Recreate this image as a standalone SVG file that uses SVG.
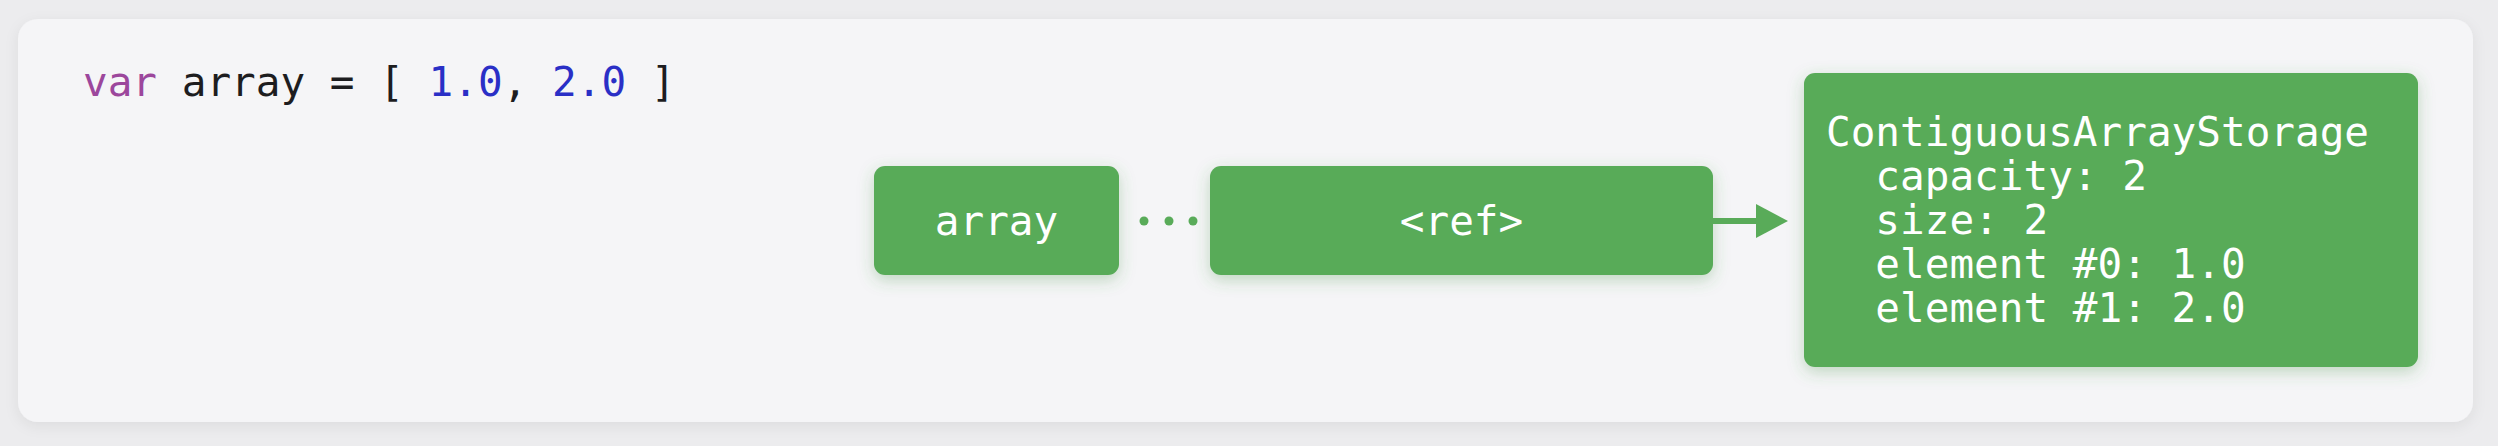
<svg xmlns="http://www.w3.org/2000/svg" width="2498" height="446" viewBox="0 0 2498 446">
  <defs>
    <style>
      .mono { font-family: "DejaVu Sans Mono", "Liberation Mono", monospace; font-size: 41px; }
      .box { fill: #59ab59; }
      .lbl { fill: #ffffff; text-anchor: middle; }
      .wt { fill: #ffffff; }
    </style>
    <filter id="cardShadow" x="-5%" y="-20%" width="110%" height="150%">
      <feGaussianBlur in="SourceAlpha" stdDeviation="7"/>
      <feOffset dy="4" result="b"/>
      <feFlood flood-color="#000000" flood-opacity="0.07"/>
      <feComposite in2="b" operator="in"/>
      <feMerge><feMergeNode/><feMergeNode in="SourceGraphic"/></feMerge>
    </filter>
    <filter id="greenShadow" x="-20%" y="-30%" width="140%" height="170%">
      <feGaussianBlur in="SourceAlpha" stdDeviation="8"/>
      <feOffset dy="5" result="b"/>
      <feFlood flood-color="#3f8f3f" flood-opacity="0.3"/>
      <feComposite in2="b" operator="in"/>
      <feMerge><feMergeNode/><feMergeNode in="SourceGraphic"/></feMerge>
    </filter>
  </defs>

  <rect x="0" y="0" width="2498" height="446" fill="#ececee"/>
  <rect x="18" y="19" width="2455" height="403" rx="20" ry="20" fill="#f5f5f7" filter="url(#cardShadow)"/>

  <g id="code">
    <text class="mono" x="83" y="96" fill="#1d1d1f" xml:space="preserve"><tspan fill="#9c479c">var</tspan> array = [ <tspan fill="#2a2fc6">1.0</tspan>, <tspan fill="#2a2fc6">2.0</tspan> ]</text>
  </g>

  <g id="node-array">
    <rect class="box" x="874" y="166" width="245" height="109" rx="11" ry="11" filter="url(#greenShadow)"/>
    <text class="mono lbl" x="996.5" y="235">array</text>
  </g>

  <g id="node-ref">
    <rect class="box" x="1210" y="166" width="503" height="109" rx="11" ry="11" filter="url(#greenShadow)"/>
    <text class="mono lbl" x="1461.5" y="235">&lt;ref&gt;</text>
  </g>

  <g id="node-storage">
    <rect class="box" x="1804" y="73" width="614" height="294" rx="11" ry="11" filter="url(#greenShadow)"/>
    <text class="mono wt" x="1826" y="146" xml:space="preserve">ContiguousArrayStorage</text>
    <text class="mono wt" x="1826" y="190" xml:space="preserve">  capacity: 2</text>
    <text class="mono wt" x="1826" y="234" xml:space="preserve">  size: 2</text>
    <text class="mono wt" x="1826" y="278" xml:space="preserve">  element #0: 1.0</text>
    <text class="mono wt" x="1826" y="322" xml:space="preserve">  element #1: 2.0</text>
  </g>

  <g id="connectors">
    <g id="dots" fill="#59ab59">
      <circle cx="1144" cy="221" r="4.5"/>
      <circle cx="1169" cy="221" r="4.5"/>
      <circle cx="1193" cy="221" r="4.5"/>
    </g>
    <g id="arrow" fill="#59ab59" stroke="none">
      <line x1="1713" y1="221" x2="1760" y2="221" stroke="#59ab59" stroke-width="6"/>
      <polygon points="1756,204 1788,221 1756,238"/>
    </g>
  </g>
</svg>
